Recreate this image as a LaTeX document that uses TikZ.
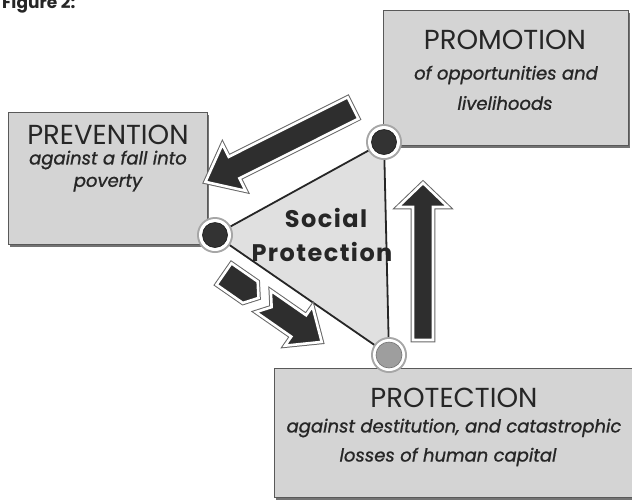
\documentclass[tikz,border=0pt]{standalone}
\usepackage{fontspec}
\setmainfont{Poppins}
\begin{document}
\begin{tikzpicture}[x=1pt,y=-1pt,
  box/.style={draw=black!65, line width=0.8pt, fill=black!17, inner sep=0pt},
  boxshadow/.style={fill=black!55, draw=none, inner sep=0pt},
  head/.style={text=black!85, font=\fontsize{27.5}{27.5}\selectfont, inner sep=0pt},
  sub/.style={text=black!85, font=\itshape\fontsize{18}{18}\selectfont\addfontfeatures{FakeBold=1}, inner sep=0pt},
  centre/.style={text=black!85, font=\bfseries\fontsize{24}{24}\selectfont\addfontfeatures{LetterSpace=6}, inner sep=0pt},
  side/.style={line width=1.8pt, draw=black!85},
  arrrim/.style={draw=black!60, line width=4.6pt, line join=miter},
  arrbody/.style={draw=white, line width=2.6pt, fill=black!82, line join=miter},
  dotrim/.style={circle, fill=black!35, draw=none, minimum size=36pt, inner sep=0pt},
  dotring/.style={circle, fill=white, draw=none, minimum size=32pt, inner sep=0pt},
  dotdark/.style={circle, fill=black!80, draw=black!90, line width=0.6pt, minimum size=25pt, inner sep=0pt},
  dotgray/.style={circle, fill=black!38, draw=black!55, line width=0.6pt, minimum size=26pt, inner sep=0pt}
]
\useasboundingbox (0,0) rectangle (632,499);
\fill[white] (0,0) rectangle (632,499);

% title (cut off at the top, as in the reference)
\node[anchor=base west, text=black!85, font=\bfseries\fontsize{17}{17}\selectfont, inner sep=0pt] (title) at (2,8) {Figure 2:};

% boxes
\node[boxshadow, minimum width=245pt, minimum height=135pt] at (507.5,80) {};
\node[box, minimum width=245pt, minimum height=135pt] (promo) at (505.5,77.5) {};
\node[boxshadow, minimum width=199pt, minimum height=132pt] at (109.5,180.5) {};
\node[box, minimum width=199pt, minimum height=132pt] (prev) at (107.5,178) {};
\node[boxshadow, minimum width=360pt, minimum height=129pt] at (456,435) {};
\node[box, minimum width=360pt, minimum height=129pt] (prot) at (454,432.5) {};

% box texts
\node[head] (promoT) at (505,40) {PROMOTION};
\node[sub] (promoS1) at (506,75) {of opportunities and};
\node[sub] (promoS2) at (505,103) {livelihoods};
\node[head] (prevT) at (108,135) {PREVENTION};
\node[sub] (prevS1) at (108,160) {against a fall into};
\node[sub] (prevS2) at (108,183) {poverty};
\node[head] (protT) at (454,398) {PROTECTION};
\node[sub] (protS1) at (454,428) {against destitution, and catastrophic};
\node[sub] (protS2) at (448,457) {losses of human capital};

% triangle
\coordinate (pA) at (384,142);
\coordinate (pB) at (215,235);
\coordinate (pC) at (389,355);
\fill[black!12] (pA) -- (pB) -- (pC) -- cycle;
\draw[side] (pA) -- (pB);
\draw[side] (pB) -- (pC);
\draw[side] (pA) -- (pC);

\node[centre] (soc1) at (326,218) {Social};
\node[centre] (soc2) at (322,252) {Protection};

% arrow towards PREVENTION
\begin{scope}[shift={(353,108)}, rotate=206.6]
  \path[arrrim] (0,-12) -- (133,-12) -- (133,-26) -- (165,0) -- (133,26) -- (133,12) -- (0,12) -- cycle;
  \path[arrbody] (0,-12) -- (133,-12) -- (133,-26) -- (165,0) -- (133,26) -- (133,12) -- (0,12) -- cycle;
\end{scope}
% arrow towards PROMOTION
\begin{scope}[shift={(423,340)}, rotate=90]
  \path[arrrim] (0,-10) -- (133,-10) -- (133,-25) -- (157,0) -- (133,25) -- (133,10) -- (0,10) -- cycle;
  \path[arrbody] (0,-10) -- (133,-10) -- (133,-25) -- (157,0) -- (133,25) -- (133,10) -- (0,10) -- cycle;
\end{scope}
% striped arrow towards PROTECTION
\begin{scope}[shift={(224,274)}, rotate=-34.8]
  \path[arrrim] (0,-13) -- (32,-13) -- (42,0) -- (32,13) -- (0,13) -- cycle;
  \path[arrbody] (0,-13) -- (32,-13) -- (42,0) -- (32,13) -- (0,13) -- cycle;
  \path[arrrim] (48,-13) -- (91,-13) -- (91,-24) -- (119,0) -- (91,24) -- (91,13) -- (48,13) -- (58,0) -- cycle;
  \path[arrbody] (48,-13) -- (91,-13) -- (91,-24) -- (119,0) -- (91,24) -- (91,13) -- (48,13) -- (58,0) -- cycle;
\end{scope}

% dots
\node[dotrim] at (pA) {};
\node[dotring] at (pA) {};
\node[dotdark] (A) at (pA) {};
\node[dotrim] at (pB) {};
\node[dotring] at (pB) {};
\node[dotdark] (B) at (pB) {};
\node[dotrim] at (pC) {};
\node[dotring] at (pC) {};
\node[dotgray] (C) at (pC) {};
\end{tikzpicture}
\end{document}
